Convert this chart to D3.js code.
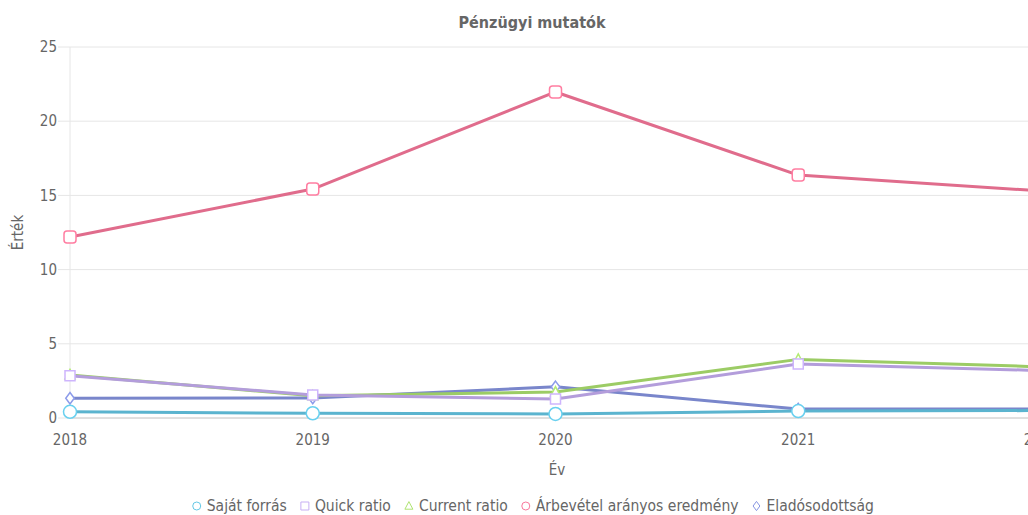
<!DOCTYPE html>
<html>
<head>
<meta charset="utf-8">
<script src="https://cdn.jsdelivr.net/npm/d3@7"></script>
<style>
  html, body { margin: 0; padding: 0; background: #fff; overflow: hidden; }
  svg { display: block; font-family: "DejaVu Sans Condensed", "DejaVu Sans", sans-serif; }
</style>
</head>
<body>
<div id="chart"></div>
<script>
const years = ['2018', '2019', '2020', '2021', '2022'];
const sajatForras = [0.42, 0.32, 0.27, 0.47, 0.5];
const quickRatio = [2.85, 1.55, 1.28, 3.64, 3.2];
const currentRatio = [2.9, 1.5, 1.75, 3.95, 3.45];
const arbevetel = [12.2, 15.43, 21.97, 16.37, 15.3];
const eladosodottsag = [1.33, 1.35, 2.1, 0.6, 0.6];
const yTicks = [0, 5, 10, 15, 20, 25];

const series = [
  { name: 'Saját forrás', values: sajatForras, color: '#5bb4cf', marker: 'circle' },
  { name: 'Quick ratio', values: quickRatio, color: '#b39ddb', marker: 'square' },
  { name: 'Current ratio', values: currentRatio, color: '#9ccc65', marker: 'triangle' },
  { name: 'Árbevétel arányos eredmény', values: arbevetel, color: '#e06c8c', marker: 'rounded' },
  { name: 'Eladósodottság', values: eladosodottsag, color: '#7986cb', marker: 'diamond' }
];
const drawOrder = [4, 2, 1, 3, 0];

const W = 1064, H = 515;
const M = { left: 70, right: 23, top: 47, bottom: 97 };
const TXT = '#666';

const svg = d3.select('#chart').append('svg')
  .attr('width', W).attr('height', H);

const x = d3.scalePoint().domain(years).range([M.left, W - M.right]);
const y = d3.scaleLinear().domain([0, 25]).range([H - M.bottom, M.top]);

function markerPath(type, s) {
  const h = s / 2;
  if (type === 'circle') return d3.symbol(d3.symbolCircle, Math.PI * h * h)();
  if (type === 'square') return `M${-h},${-h}H${h}V${h}H${-h}Z`;
  if (type === 'triangle') return `M0,${-h * 1.1}L${h},${h * 0.8}H${-h}Z`;
  if (type === 'diamond') return `M0,${-h * 1.15}L${h * 0.85},0L0,${h * 1.15}L${-h * 0.85},0Z`;
  const r = s * 0.25, p = d3.path();
  p.moveTo(-h + r, -h);
  p.arcTo(h, -h, h, h, r); p.arcTo(h, h, -h, h, r);
  p.arcTo(-h, h, -h, -h, r); p.arcTo(-h, -h, h, -h, r);
  p.closePath();
  return p.toString();
}

// grid
svg.append('g')
  .selectAll('line')
  .data(yTicks)
  .join('line')
  .attr('x1', M.left - 12).attr('x2', W - M.right)
  .attr('y1', d => y(d)).attr('y2', d => y(d))
  .attr('stroke', '#e6e6e6').attr('stroke-width', 1);

svg.append('line')
  .attr('x1', M.left).attr('x2', M.left)
  .attr('y1', y(25)).attr('y2', y(0))
  .attr('stroke', '#e6e6e6');

svg.append('line')
  .attr('x1', M.left).attr('x2', W - M.right)
  .attr('y1', y(0)).attr('y2', y(0))
  .attr('stroke', '#ccc');

// y labels
svg.append('g')
  .selectAll('text')
  .data(yTicks)
  .join('text')
  .attr('x', M.left - 13).attr('y', d => y(d))
  .attr('dy', '0.35em')
  .attr('text-anchor', 'end')
  .attr('fill', TXT).attr('font-size', 15)
  .text(d => d);

// x labels
svg.append('g')
  .selectAll('text')
  .data(years)
  .join('text')
  .attr('x', d => x(d)).attr('y', y(0) + 22)
  .attr('dy', '0.35em')
  .attr('text-anchor', 'middle')
  .attr('fill', TXT).attr('font-size', 15)
  .text(d => d);

// titles
svg.append('text')
  .attr('x', 532).attr('y', 22).attr('dy', '0.35em')
  .attr('text-anchor', 'middle')
  .attr('fill', TXT).attr('font-size', 16).attr('font-weight', 'bold')
  .text('Pénzügyi mutatók');

svg.append('text')
  .attr('x', 557).attr('y', 470).attr('dy', '0.35em')
  .attr('text-anchor', 'middle')
  .attr('fill', TXT).attr('font-size', 15)
  .text('Év');

svg.append('text')
  .attr('transform', `translate(18,${(y(0) + y(25)) / 2}) rotate(-90)`)
  .attr('dy', '0.35em')
  .attr('text-anchor', 'middle')
  .attr('fill', TXT).attr('font-size', 15)
  .text('Érték');

// lines
const line = d3.line()
  .x((d, i) => x(years[i]))
  .y(d => y(d));

const sG = svg.append('g')
  .selectAll('g')
  .data(drawOrder.map(i => series[i]))
  .join('g');

sG.append('path')
  .attr('d', d => line(d.values))
  .attr('fill', 'none')
  .attr('stroke', d => d.color)
  .attr('stroke-width', 3)
  .attr('stroke-linejoin', 'round');

const markSize = { circle: 13, square: 10, triangle: 10, rounded: 12, diamond: 10 };

sG.selectAll('path.pt')
  .data(d => d.values.map((v, i) => ({ v, i, s: d })))
  .join('path')
  .attr('class', 'pt')
  .attr('transform', d => `translate(${x(years[d.i])},${y(d.v)})`)
  .attr('d', d => markerPath(d.s.marker, markSize[d.s.marker]))
  .attr('fill', '#fff')
  .attr('stroke', d => d3.color(d.s.color).brighter(0.4))
  .attr('stroke-width', 1.5);

// legend
const leg = svg.append('g');
const items = leg.selectAll('g')
  .data(series)
  .join('g');

items.append('path')
  .attr('d', d => markerPath(d.marker === 'rounded' ? 'circle' : d.marker, 8))
  .attr('fill', 'none')
  .attr('stroke', d => d3.color(d.color).brighter(0.3))
  .attr('stroke-width', 1);

items.append('text')
  .attr('x', 10).attr('dy', '0.35em')
  .attr('fill', TXT).attr('font-size', 15.5)
  .text(d => d.name);

let pos = 0;
const offsets = [];
items.each(function () {
  offsets.push(pos);
  pos += this.getBBox().width + 14;
});
const total = pos - 14;
const startX = 533 - total / 2 + 4;
items.attr('transform', (d, i) => `translate(${startX + offsets[i]},506)`);
</script>
</body>
</html>
